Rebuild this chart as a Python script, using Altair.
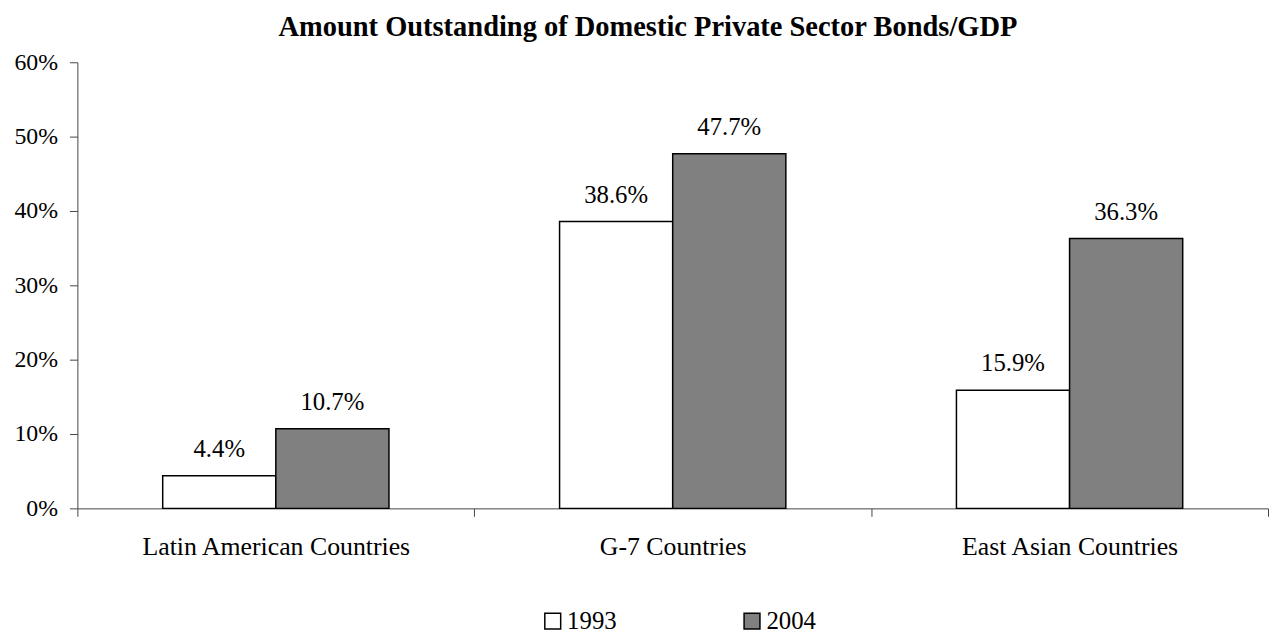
import altair as alt
import pandas as pd

categories = ["Latin American Countries", "G-7 Countries", "East Asian Countries"]
years = ["1993", "2004"]
values_1993 = [4.4, 38.6, 15.9]
values_2004 = [10.7, 47.7, 36.3]
y_ticks = [0, 10, 20, 30, 40, 50, 60]
fill_colors = ["#ffffff", "#808080"]

rows = []
for c, a, b in zip(categories, values_1993, values_2004):
    rows.append({"cat": c, "year": years[0], "v": a})
    rows.append({"cat": c, "year": years[1], "v": b})
df = pd.DataFrame(rows)

FONT = "Liberation Serif"
AX = "#444444"

x = alt.X(
    "cat:N", sort=categories, title=None,
    scale=alt.Scale(paddingInner=0, paddingOuter=0),
    axis=alt.Axis(labelAngle=0, tickBand="extent", tickSize=8, labelPadding=18,
                  domainColor=AX, tickColor=AX, labelFont=FONT, labelFontSize=26,
                  labelColor="black", grid=False, labelLimit=0),
)
xo = alt.XOffset("year:N", sort=years, scale=alt.Scale(paddingInner=0, paddingOuter=0.754))
y = alt.Y(
    "v:Q", title=None, scale=alt.Scale(domain=[0, 60], nice=False),
    axis=alt.Axis(values=y_ticks, labelExpr="datum.value + '%'", grid=False,
                  tickSize=8, labelPadding=12, domainColor=AX, tickColor=AX,
                  labelFont=FONT, labelFontSize=24, labelColor="black"),
)

bars = alt.Chart(df).mark_bar(stroke="black", strokeWidth=1.5).encode(
    x=x, xOffset=xo, y=y,
    fill=alt.Fill(
        "year:N", sort=years,
        scale=alt.Scale(domain=years, range=fill_colors),
        legend=alt.Legend(
            orient="none", legendX=467, legendY=551, direction="horizontal",
            title=None, symbolType="square", symbolSize=256,
            symbolStrokeColor="black", symbolStrokeWidth=1.5,
            labelFont=FONT, labelFontSize=25, labelColor="black",
            labelOffset=2, columnPadding=124, padding=0,
        ),
    ),
)

labels = alt.Chart(df).transform_calculate(
    lab="format(datum.v, '.1f') + '%'"
).mark_text(font=FONT, fontSize=25, color="black", baseline="alphabetic", dy=-19).encode(
    x=x, xOffset=xo, y=y, text="lab:N"
)

chart = (bars + labels).properties(
    width=1201, height=450,
    padding={"left": 6, "top": 2, "right": 0, "bottom": 0},
    title=alt.TitleParams(
        "Amount Outstanding of Domestic Private Sector Bonds/GDP",
        font=FONT, fontSize=28.7, fontWeight="bold", color="black",
        anchor="middle", dx=-25, dy=2, offset=-12, baseline="alphabetic",
    ),
).configure(
    background="white",
    view=alt.ViewConfig(strokeWidth=0, strokeOpacity=0),
)

chart.save("out.html", embed_options={"renderer": "svg", "actions": False})
